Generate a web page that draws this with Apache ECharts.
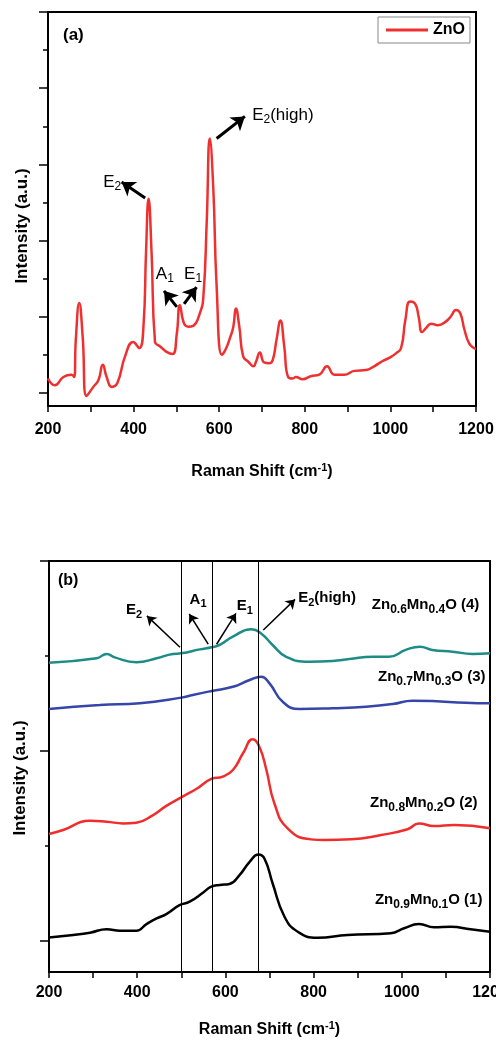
<!DOCTYPE html>
<html><head><meta charset="utf-8">
<script src="https://cdn.jsdelivr.net/npm/echarts@6/dist/echarts.min.js"></script>
<style>html,body{margin:0;padding:0;background:#fff}#c{width:496px;height:1040px}</style>
</head><body><div id="c"></div>
<script>
// ---------- Panel (a): ZnO ----------
const shiftA = [200,216,236,255,261,265,273,281,290,306,318,328,337,349,362,380,399,413,423,429,435,442,450,462,477,491,501,508,518,528,539,555,563,571,578,586,594,606,614,625,633,639,647,656,668,680,686,695,705,717,725,734,743,752,761,772,779,795,814,834,852,869,892,916,943,962,982,997,1013,1025,1035,1046,1058,1066,1074,1083,1095,1111,1130,1142,1153,1163,1173,1184,1195,1200];
const znoIntensity = [0.19,0.10,0.21,0.24,0.21,0.70,1.18,0.74,-0.04,0.08,0.17,0.37,0.21,0.08,0.13,0.48,0.67,0.59,0.87,1.84,2.55,1.84,0.67,0.61,0.54,0.51,0.78,1.15,0.91,0.87,0.88,1.05,1.26,2.27,3.34,2.71,1.40,0.50,0.56,0.72,0.87,1.11,0.87,0.48,0.41,0.35,0.41,0.53,0.40,0.39,0.43,0.70,0.95,0.61,0.21,0.19,0.21,0.18,0.22,0.24,0.35,0.24,0.24,0.29,0.30,0.35,0.42,0.46,0.52,0.59,0.96,1.20,1.17,1.00,0.80,0.85,0.91,0.89,0.94,1.01,1.09,1.05,0.83,0.65,0.59,0.58];

// ---------- Panel (b): Zn1-xMnxO ----------
const shiftB4 = [200,308,331,349,398,444,481,500,542,569,587,617,659,681,707,738,790,843,881,934,971,1009,1041,1069,1115,1160,1200];
const mn04 = [1.465,1.488,1.511,1.493,1.467,1.488,1.511,1.514,1.535,1.546,1.558,1.602,1.641,1.619,1.558,1.496,1.470,1.474,1.484,1.496,1.496,1.532,1.549,1.532,1.523,1.511,1.514];
const shiftB3 = [200,315,406,500,526,569,617,655,681,700,730,768,843,919,979,1024,1069,1145,1200];
const mn03 = [1.221,1.242,1.251,1.281,1.295,1.316,1.338,1.374,1.391,1.356,1.259,1.221,1.225,1.233,1.247,1.265,1.263,1.254,1.251];
const shiftB2 = [200,232,293,331,368,398,436,466,502,534,568,594,617,640,662,677,693,711,741,794,824,885,953,1013,1039,1073,1119,1200];
const mn02 = [0.563,0.584,0.633,0.628,0.619,0.623,0.663,0.711,0.759,0.800,0.853,0.865,0.900,0.988,1.062,1.023,0.900,0.725,0.593,0.535,0.532,0.535,0.558,0.588,0.619,0.605,0.611,0.593];
const shiftB1 = [200,255,293,331,361,398,421,444,466,496,519,549,568,587,609,632,655,675,689,707,734,764,809,877,975,1005,1039,1073,1111,1156,1200];
const mn01 = [0.019,0.032,0.044,0.062,0.054,0.054,0.089,0.119,0.142,0.189,0.207,0.254,0.286,0.295,0.300,0.347,0.417,0.455,0.432,0.304,0.128,0.049,0.017,0.032,0.041,0.067,0.089,0.072,0.075,0.062,0.049];
const modeLines = [500, 570, 675];

// tick labels
const majorTicksA = [0,1,2,3,4,5];
const minorTicksA = [0.5,1.5,2.5,3.5,4.5];
const majorTicksB = [0,1,2];
const minorTicksB = [0.5,1.5];

// annotations (data coordinates)
const arrowsA = [
  {from:[427,2.56], to:[372,2.77]},
  {from:[594,3.34], to:[660,3.63]},
  {from:[501,1.13], to:[471,1.34]},
  {from:[518,1.17], to:[547,1.39]}
];
const notesA = [
  {at:[371,2.77], text:'{m|E}{s|2}', align:'right'},
  {at:[677,3.65], text:'{m|E}{s|2}{m|(high)}', align:'left'},
  {at:[473,1.56], text:'{m|A}{s|1}', align:'center'},
  {at:[539,1.56], text:'{m|E}{s|1}', align:'center'}
];
const arrowsB = [
  {from:[497,1.546], to:[422,1.711]},
  {from:[561,1.562], to:[518,1.721]},
  {from:[580,1.562], to:[624,1.724]},
  {from:[686,1.637], to:[758,1.798]}
];
const notesB = [
  {at:[411,1.742], text:'{m|E}{s|2}', align:'right'},
  {at:[538,1.795], text:'{m|A}{s|1}', align:'center'},
  {at:[644,1.763], text:'{m|E}{s|1}', align:'center'},
  {at:[765,1.805], text:'{m|E}{s|2}{m|(high)}', align:'left'},
  {at:[932,1.768], text:'{m|Zn}{t|0.6}{m|Mn}{t|0.4}{m|O (4)}', align:'left'},
  {at:[946,1.389], text:'{m|Zn}{t|0.7}{m|Mn}{t|0.3}{m|O (3)}', align:'left'},
  {at:[928,0.726], text:'{m|Zn}{t|0.8}{m|Mn}{t|0.2}{m|O (2)}', align:'left'},
  {at:[939,0.216], text:'{m|Zn}{t|0.9}{m|Mn}{t|0.1}{m|O (1)}', align:'left'}
];

const FF = '"Liberation Sans", Arial, sans-serif';
const zip = (xs, ys) => xs.map((x, i) => [x, ys[i]]);

function xAxisCfg(grid, margin, gap) {
  return {
    gridIndex: grid, type: 'value', min: 200, max: 1200, interval: 100,
    axisLine: {show: true, onZero: false, lineStyle: {color: '#000', width: 2}},
    axisTick: {show: true, inside: false, length: 6, lineStyle: {color: '#000', width: 1.5}},
    axisLabel: {formatter: v => (v % 200 === 0 ? String(v) : ''), fontSize: 16, fontWeight: 'bold', color: '#000', fontFamily: FF, margin: margin},
    splitLine: {show: false},
    name: '{t|Raman Shift (cm}{u|-1}{t|)}', nameLocation: 'middle', nameGap: gap,
    nameTextStyle: {rich: {
      t: {fontSize: 16, fontWeight: 'bold', color: '#000', fontFamily: FF, lineHeight: 20},
      u: {fontSize: 11, fontWeight: 'bold', color: '#000', fontFamily: FF, lineHeight: 11, padding: [0, 0, 9, 0]}
    }}
  };
}
function yAxisCfg(grid, min, max, ticks, len, line) {
  return {
    gridIndex: grid, type: 'value', min: min, max: max, position: 'left',
    axisLine: {show: line, onZero: false, lineStyle: {color: '#000', width: 2}},
    axisTick: {show: true, inside: false, length: len, customValues: ticks, lineStyle: {color: '#000', width: 1.5}},
    axisLabel: {show: false}, splitLine: {show: false}
  };
}
function arrowLines(list, width, size) {
  return {
    silent: true, animation: false, symbol: ['none', 'arrow'], symbolSize: size,
    itemStyle: {color: '#000'},
    lineStyle: {color: '#000', width: width, type: 'solid'}, label: {show: false},
    data: list.map(a => [{coord: a.from}, {coord: a.to}])
  };
}
function notePoints(list, rich) {
  return {
    silent: true, animation: false, symbol: 'circle', symbolSize: 1,
    itemStyle: {color: 'rgba(0,0,0,0)'},
    label: {show: true, position: 'inside', verticalAlign: 'middle', color: '#000', rich: rich},
    data: list.map(n => ({coord: n.at, label: {formatter: n.text, align: n.align}}))
  };
}

const richA = {
  m: {fontSize: 17, color: '#000', fontFamily: FF, lineHeight: 22},
  s: {fontSize: 12, color: '#000', fontFamily: FF, lineHeight: 12, padding: [10, 0, 0, 0]}
};
const richB = {
  m: {fontSize: 15, fontWeight: 'bold', color: '#000', fontFamily: FF, lineHeight: 20},
  s: {fontSize: 11, fontWeight: 'bold', color: '#000', fontFamily: FF, lineHeight: 11, padding: [9, 0, 0, 0]},
  t: {fontSize: 12, fontWeight: 'bold', color: '#000', fontFamily: FF, lineHeight: 12, padding: [9, 0, 0, 0]}
};

const lineSeries = (name, xi, yi, data, color, extra) => Object.assign({
  type: 'line', name: name, xAxisIndex: xi, yAxisIndex: yi, data: data,
  showSymbol: false, symbol: 'none', smooth: 0.5,
  lineStyle: {color: color, width: 2.5}, itemStyle: {color: color},
  emphasis: {disabled: true}
}, extra || {});

const option = {
  animation: false,
  backgroundColor: '#fff',
  textStyle: {fontFamily: FF},
  title: [
    {text: '(a)', left: 63, top: 27, padding: 0, textStyle: {fontSize: 17, fontWeight: 'bold', color: '#000', fontFamily: FF}},
    {text: '(b)', left: 58, top: 573, padding: 0, textStyle: {fontSize: 16, fontWeight: 'bold', color: '#000', fontFamily: FF}}
  ],
  legend: {
    data: [{name: 'ZnO', icon: 'rect'}], left: 378, top: 17, padding: [4, 5, 4, 8],
    itemWidth: 42, itemHeight: 3, borderColor: '#888', borderWidth: 1,
    textStyle: {fontSize: 16, fontWeight: 'bold', color: '#000', fontFamily: FF, lineHeight: 18}
  },
  grid: [
    {left: 48, top: 12, right: 20, bottom: 634, outerBoundsMode: 'none', containLabel: false, show: true, borderColor: '#000', borderWidth: 2, backgroundColor: 'transparent'},
    {left: 49, top: 561, right: 6, bottom: 68, outerBoundsMode: 'none', containLabel: false, show: true, borderColor: '#000', borderWidth: 2, backgroundColor: 'transparent'}
  ],
  xAxis: [xAxisCfg(0, 16, 56), xAxisCfg(1, 13, 48)],
  yAxis: [
    yAxisCfg(0, -0.171, 5, majorTicksA, 9, true),
    yAxisCfg(0, -0.171, 5, minorTicksA, 5, false),
    yAxisCfg(1, -0.163, 2, majorTicksB, 9, true),
    yAxisCfg(1, -0.163, 2, minorTicksB, 4, false)
  ],
  graphic: [
    {type: 'text', x: 22, y: 226, rotation: Math.PI / 2,
     style: {text: 'Intensity (a.u.)', font: 'bold 17px ' + FF, fill: '#000', align: 'center', verticalAlign: 'middle', textAlign: 'center', textVerticalAlign: 'middle'}},
    {type: 'text', x: 20, y: 778, rotation: Math.PI / 2,
     style: {text: 'Intensity (a.u.)', font: 'bold 17px ' + FF, fill: '#000', align: 'center', verticalAlign: 'middle', textAlign: 'center', textVerticalAlign: 'middle'}}
  ],
  series: [
    lineSeries('ZnO', 0, 0, zip(shiftA, znoIntensity), '#ee3030', {
      markLine: arrowLines(arrowsA, 3, 13),
      markPoint: notePoints(notesA, richA)
    }),
    lineSeries('Zn0.9Mn0.1O (1)', 1, 2, zip(shiftB1, mn01), '#000000', {
      markLine: {silent: true, symbol: ['none', 'none'], lineStyle: {color: '#000', width: 1, type: 'solid'},
                 label: {show: false}, data: modeLines.map(v => ({xAxis: v}))}
    }),
    lineSeries('Zn0.8Mn0.2O (2)', 1, 2, zip(shiftB2, mn02), '#f02d2d'),
    lineSeries('Zn0.7Mn0.3O (3)', 1, 2, zip(shiftB3, mn03), '#3546a8'),
    lineSeries('Zn0.6Mn0.4O (4)', 1, 2, zip(shiftB4, mn04), '#1d8c86', {
      markLine: arrowLines(arrowsB, 1.5, 9),
      markPoint: notePoints(notesB, richB)
    })
  ]
};

const chart = echarts.init(document.getElementById('c'), null, {renderer: 'canvas'});
chart.setOption(option);
</script>
</body></html>
